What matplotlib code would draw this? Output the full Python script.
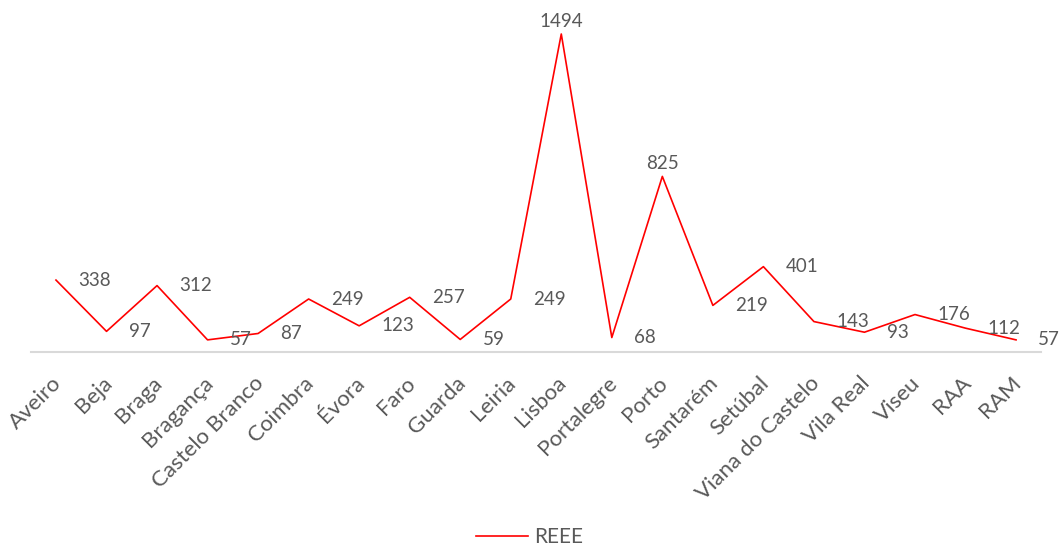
import matplotlib.pyplot as plt
from matplotlib.transforms import ScaledTranslation

plt.rcParams['font.family'] = ['Lato', 'DejaVu Sans']

districts = ['Aveiro', 'Beja', 'Braga', 'Bragança', 'Castelo Branco', 'Coimbra',
             'Évora', 'Faro', 'Guarda', 'Leiria', 'Lisboa', 'Portalegre', 'Porto',
             'Santarém', 'Setúbal', 'Viana do Castelo', 'Vila Real', 'Viseu',
             'RAA', 'RAM']
reee = [338, 97, 312, 57, 87, 249, 123, 257, 59, 249, 1494, 68, 825,
        219, 401, 143, 93, 176, 112, 57]
above_labels = ['Lisboa', 'Porto']

txt_color = '#595959'

fig = plt.figure(figsize=(10.59, 5.52), dpi=100)
ax = fig.add_axes([0.029, 0.3623, 0.9543, 0.617])

x = list(range(len(districts)))
ax.plot(x, reee, color='#ff0000', lw=1.2, label='REEE')

for i, v in enumerate(reee):
    if districts[i] in above_labels:
        ax.annotate(str(v), (i, v), xytext=(0, 3), textcoords='offset points',
                    ha='center', va='bottom', fontsize=13.5, color=txt_color)
    else:
        ax.annotate(str(v), (i, v), xytext=(16, 0), textcoords='offset points',
                    ha='left', va='center', fontsize=13.5, color=txt_color)

ax.set_xlim(-0.5, len(districts) - 0.5)
ax.set_ylim(0, 1600)
ax.set_xticks(x)
ax.set_xticklabels(districts, rotation=45, ha='right', rotation_mode='anchor',
                   fontsize=16, color=txt_color)
ax.tick_params(axis='x', length=0, pad=15)
# nudge tick labels a little left, like the original
shift = ScaledTranslation(-5 / 100, 0, fig.dpi_scale_trans)
for lbl in ax.get_xticklabels():
    lbl.set_transform(lbl.get_transform() + shift)
ax.set_yticks([])
for s in ['top', 'right', 'left']:
    ax.spines[s].set_visible(False)
ax.spines['bottom'].set_color('#d9d9d9')
ax.spines['bottom'].set_linewidth(1.5)

fig.legend(loc='lower center', bbox_to_anchor=(0.5, -0.025), frameon=False,
           fontsize=15, labelcolor=txt_color, handlelength=2.5, handletextpad=0.3)

fig.savefig('out.png', dpi=100)
